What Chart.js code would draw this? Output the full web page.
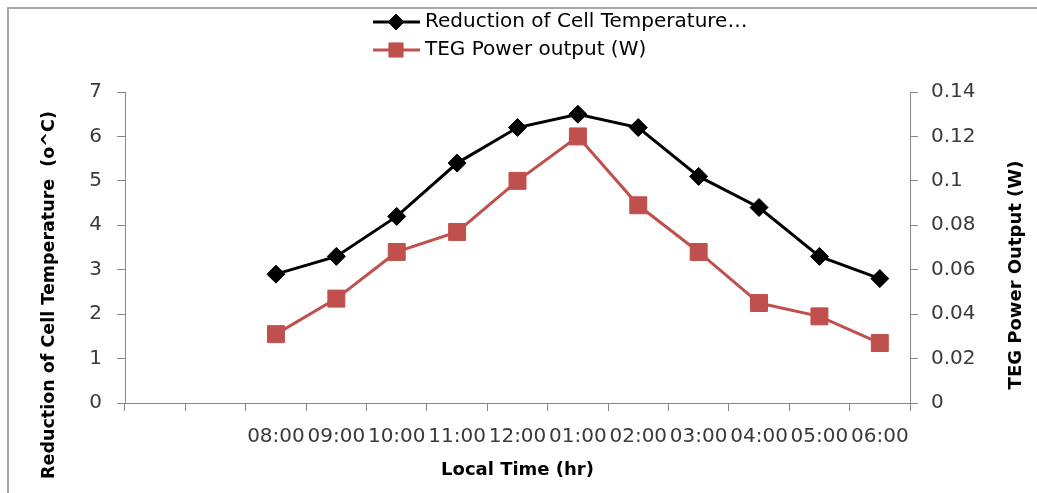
<!DOCTYPE html>
<html>
<head>
<meta charset="utf-8">
<title>TEG cooling</title>
<script src="https://cdn.jsdelivr.net/npm/chart.js@4.4.1/dist/chart.umd.min.js"></script>
<style>
  html, body { margin: 0; padding: 0; background: #fff; }
  #wrap { position: relative; width: 1037px; height: 493px; overflow: hidden; }
  #frame { position: absolute; left: 7px; top: 7px; width: 1200px; height: 700px;
           border-top: 2px solid #a8a8a8; border-left: 2px solid #a8a8a8; }
  #teg_chart { position: absolute; left: 0; top: 0; }
</style>
</head>
<body>
<div id="wrap">
  <div id="frame"></div>
  <canvas id="teg_chart" width="1037" height="493"></canvas>
</div>
<script>
// two empty slots before the first reading
var timeLabels = ["", "", "08:00", "09:00", "10:00", "11:00", "12:00", "01:00", "02:00", "03:00", "04:00", "05:00", "06:00"];
var tempReduction = [null, null, 2.9, 3.3, 4.2, 5.4, 6.2, 6.5, 6.2, 5.1, 4.4, 3.3, 2.8];
var tegPower = [null, null, 0.031, 0.047, 0.068, 0.077, 0.100, 0.120, 0.089, 0.068, 0.045, 0.039, 0.027];
var seriesNames = ["Reduction of Cell Temperature\u2026", "TEG Power output (W)"];

var axisGray = "#868686";
var labelColor = "#3a3a3a";
var tickFont = { family: "DejaVu Sans", size: 20 };
var titleFont = { family: "DejaVu Sans", size: 18, weight: "bold" };

// side titles sit a bit lower than the plot middle, drawn by hand
var sideTitles = {
  id: "sideTitles",
  afterDraw: function(chart) {
    var c = chart.ctx;
    c.save();
    c.font = "bold 17.5px 'DejaVu Sans'";
    c.fillStyle = "#000";
    c.textAlign = "center";
    c.textBaseline = "middle";
    c.translate(49, 295);
    c.rotate(-Math.PI / 2);
    c.fillText("Reduction of Cell Temperature  (o^C)", 0, 0);
    c.restore();
    c.save();
    c.font = "bold 18px 'DejaVu Sans'";
    c.fillStyle = "#000";
    c.textAlign = "center";
    c.textBaseline = "middle";
    c.translate(1016, 275);
    c.rotate(-Math.PI / 2);
    c.fillText("TEG Power Output (W)", 0, 0);
    c.restore();
  }
};

// legend with a short line through each marker
var lineLegend = {
  id: "lineLegend",
  afterDraw: function(chart) {
    var c = chart.ctx;
    var rows = [22, 50];
    chart.data.datasets.forEach(function(ds, i) {
      var y = rows[i];
      c.save();
      c.strokeStyle = ds.borderColor;
      c.lineWidth = 3;
      c.beginPath();
      c.moveTo(373, y);
      c.lineTo(420, y);
      c.stroke();
      c.fillStyle = ds.pointBackgroundColor;
      c.strokeStyle = ds.pointBorderColor;
      c.lineWidth = 1;
      Chart.helpers.drawPoint(c, { pointStyle: ds.pointStyle, radius: i === 0 ? 8 : 10, borderWidth: 1 }, 396, y);
      c.fillStyle = "#000";
      c.font = "20px 'DejaVu Sans'";
      c.textAlign = "left";
      c.textBaseline = "middle";
      c.fillText(ds.label, 425, y);
      c.restore();
    });
  }
};

var ctx = document.getElementById("teg_chart").getContext("2d");
var tegChart = new Chart(ctx, {
  type: "line",
  data: {
    labels: timeLabels,
    datasets: [{
      label: seriesNames[0],
      data: tempReduction,
      yAxisID: "y",
      borderColor: "#000000",
      borderWidth: 3,
      pointStyle: "rectRot",
      pointRadius: 9,
      pointBackgroundColor: "#000000",
      pointBorderColor: "#000000",
      pointBorderWidth: 1,
      tension: 0
    }, {
      label: seriesNames[1],
      data: tegPower,
      yAxisID: "y1",
      borderColor: "#C0504D",
      borderWidth: 3,
      pointStyle: "rect",
      pointRadius: 12,
      pointBackgroundColor: "#C0504D",
      pointBorderColor: "#C0504D",
      pointBorderWidth: 1,
      tension: 0
    }]
  },
  options: {
    responsive: false,
    animation: false,
    devicePixelRatio: 1,
    layout: { padding: { top: 92, left: 0, right: 0, bottom: 0 } },
    plugins: {
      legend: { display: false },
      tooltip: { enabled: false }
    },
    scales: {
      x: {
        type: "category",
        offset: true,
        grid: { offset: true, drawOnChartArea: false, tickLength: 8, color: axisGray },
        border: { color: axisGray },
        ticks: { font: tickFont, color: labelColor, padding: 14, maxRotation: 0, minRotation: 0, autoSkip: false },
        title: { display: true, text: "Local Time (hr)", font: titleFont, color: "#000", padding: { top: 0, bottom: 12 } },
        afterFit: function(scale) { scale.height = 90; }
      },
      y: {
        position: "left",
        min: 0,
        max: 7,
        grid: { drawOnChartArea: false, tickLength: 8, color: axisGray },
        border: { color: axisGray },
        ticks: { stepSize: 1, font: tickFont, color: labelColor, padding: 15 },
        afterFit: function(scale) { scale.width = 125; }
      },
      y1: {
        position: "right",
        min: 0,
        max: 0.14,
        grid: { drawOnChartArea: false, tickLength: 8, color: axisGray },
        border: { color: axisGray },
        ticks: {
          stepSize: 0.02, font: tickFont, color: labelColor, padding: 13,
          callback: function(v) { return String(Number(v.toFixed(2))); }
        },
        afterFit: function(scale) { scale.width = 127; }
      }
    }
  },
  plugins: [sideTitles, lineLegend]
});
</script>
</body>
</html>
